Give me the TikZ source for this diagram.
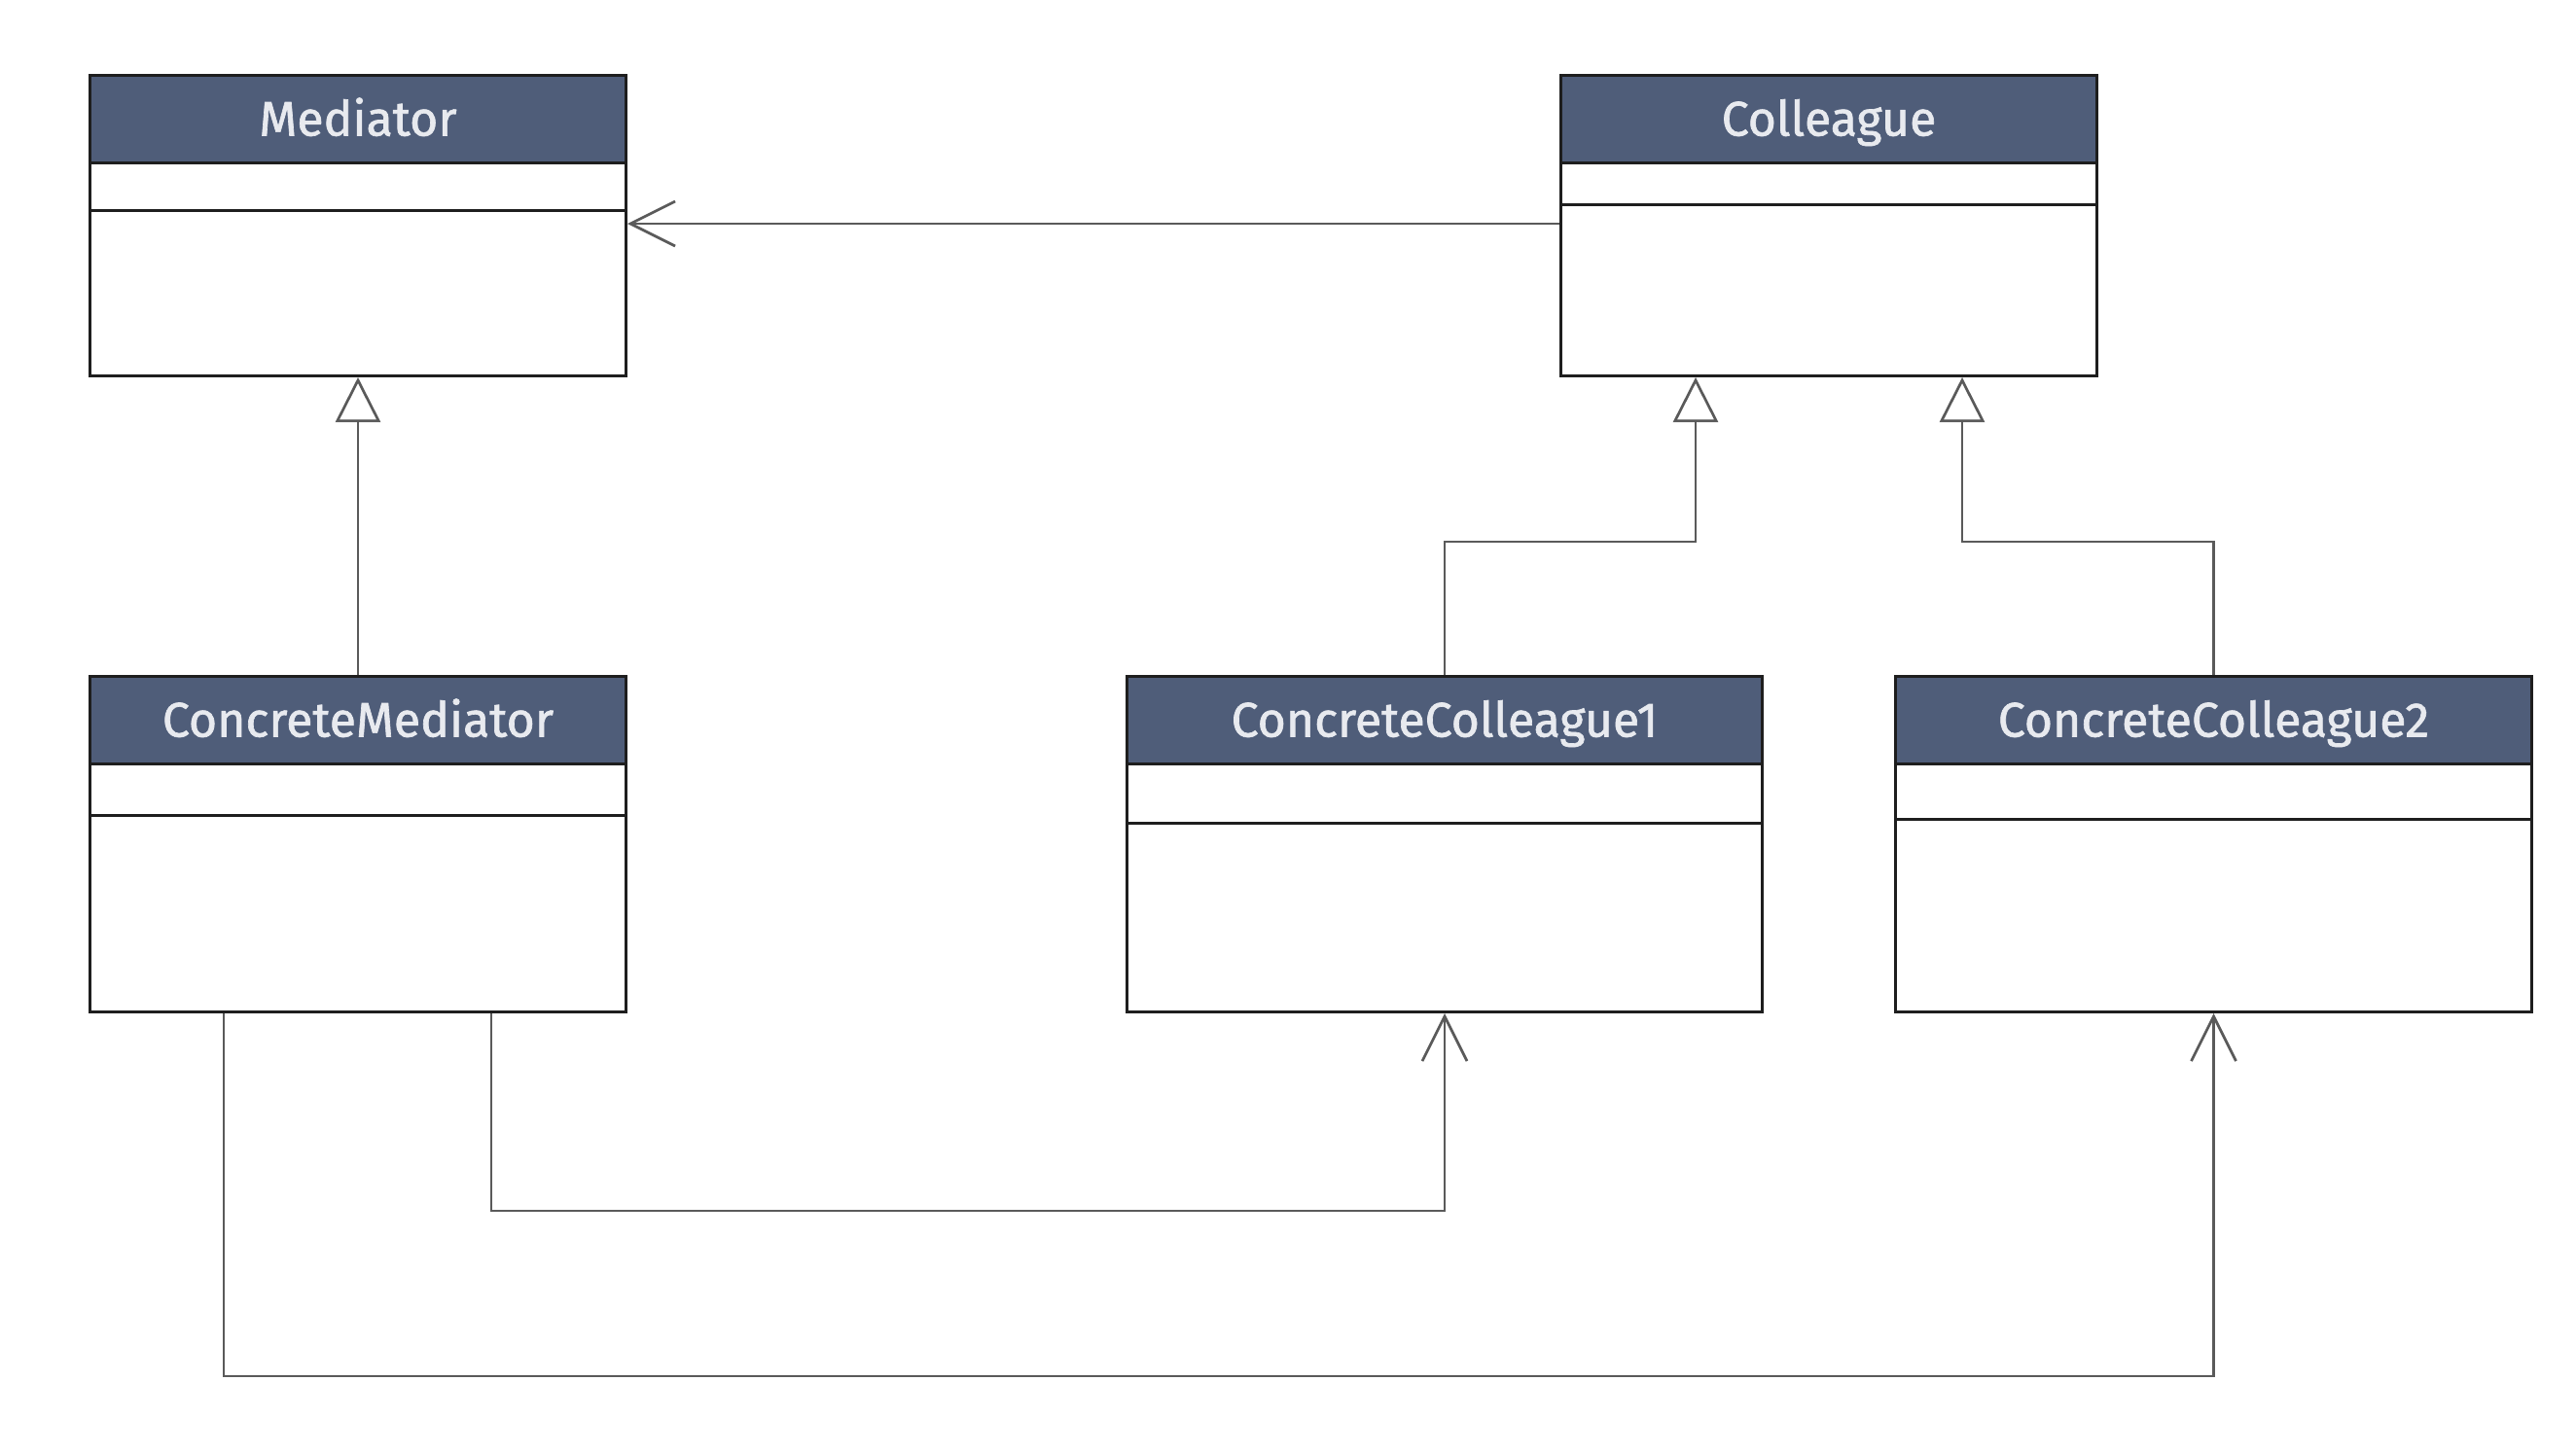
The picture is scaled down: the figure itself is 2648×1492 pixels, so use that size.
\documentclass[tikz,border=0pt]{standalone}
\usepackage{fontspec}
\setmainfont{Fira Sans}
\newfontfamily\headfont{Fira Sans}[FakeBold=1.3]
\usetikzlibrary{arrows.meta,calc}
\definecolor{headc}{HTML}{4F5D79}
\definecolor{headtext}{HTML}{E8EAEF}
\definecolor{boxc}{HTML}{1E1E1E}
\definecolor{connc}{HTML}{5A5A5A}
\tikzset{
  classbody/.style={draw=boxc, line width=3pt, fill=white, inner sep=0pt, anchor=north west},
  classhead/.style={draw=boxc, line width=3pt, fill=headc, text=headtext, inner sep=0pt,
    anchor=north west, minimum height=90pt, text height=34pt, text depth=0pt,
    font=\headfont\fontsize{50}{60}\selectfont},
  divider/.style={draw=boxc, line width=3pt},
  conn/.style={draw=connc, line width=2.7pt},
  gen/.style={conn, -{Triangle[open, length=46pt, width=46pt, fill=white]}},
  assoc/.style={conn, -{Straight Barb[length=46pt, width=46pt]}},
}
\newcommand{\umlclass}[7]{%
  \node[classbody, minimum width=#4pt, minimum height=#5pt] (#1) at (#2,#3) {};
  \node[classhead, minimum width=#4pt] (#1-h) at (#2,#3) {#7};
  \draw[divider] (#2,#3+#6) -- (#2+#4,#3+#6);
}
\begin{document}
\begin{tikzpicture}[x=1pt,y=-1pt]
\useasboundingbox[fill=white] (0,0) rectangle (2648,1492);
\umlclass{med}{91}{76}{551}{309}{140}{Mediator}
\umlclass{col}{1603}{76}{551}{309}{134}{Colleague}
\umlclass{cm}{91}{694}{551}{345}{144}{ConcreteMediator}
\umlclass{cc1}{1157}{694}{653}{345}{152}{ConcreteColleague1}
\umlclass{cc2}{1947}{694}{654}{345}{148}{ConcreteColleague2}
\coordinate (yassoc) at (0,230);
\coordinate (yelbow) at (0,557);
\coordinate (ylow1) at (0,1245);
\coordinate (ylow2) at (0,1415);
% association Colleague -> Mediator
\draw[assoc] (col.west |- yassoc) -- (med.east |- yassoc);
% generalisations
\draw[gen] (cm.north) -- (med.south);
\draw[gen] (cc1.north) |- (yelbow -| {$(col.south)+(-137,0)$}) -- ($(col.south)+(-137,0)$);
\draw[gen] (cc2.north) |- (yelbow -| {$(col.south)+(137,0)$}) -- ($(col.south)+(137,0)$);
% associations ConcreteMediator -> ConcreteColleagues
\draw[assoc] ($(cm.south)+(137,0)$) |- (ylow1 -| cc1.south) -- (cc1.south);
\draw[assoc] ($(cm.south)+(-138,0)$) |- (ylow2 -| cc2.south) -- (cc2.south);
\end{tikzpicture}
\end{document}
